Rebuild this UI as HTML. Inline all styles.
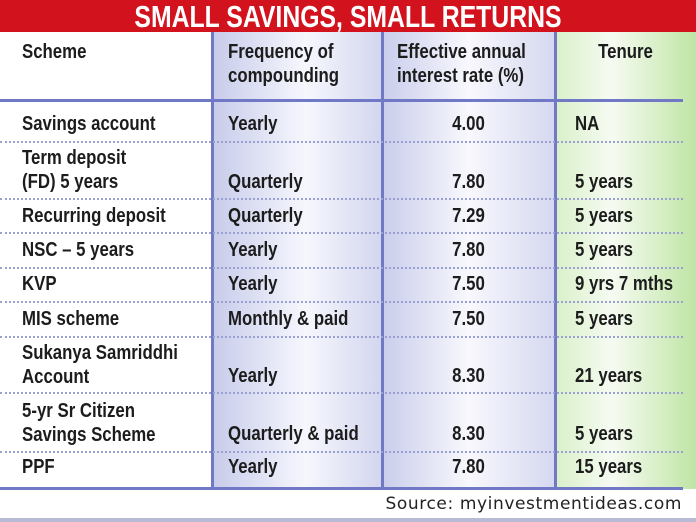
<!DOCTYPE html>
<html><head><meta charset="utf-8"><style>
body{margin:0;width:696px;height:522px;overflow:hidden;background:#fff;position:relative;font-family:"Liberation Sans",sans-serif;font-weight:bold;color:#1c1c1c}
.t{position:absolute;font-size:20px;line-height:24px;white-space:nowrap;transform:scaleX(0.84);transform-origin:0 0}
.c{transform-origin:50% 0;text-align:center}
.title{position:absolute;left:0;top:0;width:696px;height:32px;background:#d2121d}
.title span{position:absolute;left:0;width:696px;top:0;color:#fff;font-size:31px;line-height:33px;text-align:center;transform:scaleX(0.8);transform-origin:50% 0}
.col{position:absolute;top:32px;height:457px}
.v{position:absolute;top:32px;height:457px;width:3px;background:#7178c6}
.d{position:absolute;left:0;width:683px;height:0;border-top:2px dotted #9aa0cf}
</style></head><body>
<div class="title"><span>SMALL SAVINGS, SMALL RETURNS</span></div>
<div class="col" style="left:212px;width:170px;background:linear-gradient(90deg,#c7cbea,#f6f7fd 55%,#d3d6ef)"></div>
<div class="col" style="left:382px;width:173px;background:linear-gradient(90deg,#c9cdeb,#f8f8fd 50%,#d5d8f0)"></div>
<div class="col" style="left:555px;width:141px;background:linear-gradient(90deg,#d9f0c8,#f6fbf2 40%,#bfe5a5)"></div>
<div class="v" style="left:211px"></div>
<div class="v" style="left:381px"></div>
<div class="v" style="left:554px"></div>
<div style="position:absolute;left:0;top:99px;width:683px;height:3px;background:#7178c6"></div>
<div style="position:absolute;left:0;top:487px;width:683px;height:3px;background:#7178c6"></div>
<div class="d" style="top:141px"></div>
<div class="d" style="top:198px"></div>
<div class="d" style="top:232px"></div>
<div class="d" style="top:267px"></div>
<div class="d" style="top:301px"></div>
<div class="d" style="top:336px"></div>
<div class="d" style="top:392px"></div>
<div class="d" style="top:451px"></div>
<div style="position:absolute;left:0;top:518px;width:696px;height:4px;background:#b8bbd6"></div>

<div class="t" style="left:22px;top:40px">Scheme</div>
<div class="t" style="left:228px;top:40px">Frequency of<br>compounding</div>
<div class="t" style="left:397px;top:40px">Effective annual<br>interest rate (%)</div>
<div class="t c" style="left:555px;width:141px;top:40px">Tenure</div>

<div class="t" style="left:22px;top:112px">Savings account</div>
<div class="t" style="left:228px;top:112px">Yearly</div>
<div class="t c" style="left:382px;width:173px;top:112px">4.00</div>
<div class="t" style="left:575px;top:112px">NA</div>

<div class="t" style="left:22px;top:146px">Term deposit<br>(FD) 5 years</div>
<div class="t" style="left:228px;top:170px">Quarterly</div>
<div class="t c" style="left:382px;width:173px;top:170px">7.80</div>
<div class="t" style="left:575px;top:170px">5 years</div>

<div class="t" style="left:22px;top:204px">Recurring deposit</div>
<div class="t" style="left:228px;top:204px">Quarterly</div>
<div class="t c" style="left:382px;width:173px;top:204px">7.29</div>
<div class="t" style="left:575px;top:204px">5 years</div>

<div class="t" style="left:22px;top:238px">NSC – 5 years</div>
<div class="t" style="left:228px;top:238px">Yearly</div>
<div class="t c" style="left:382px;width:173px;top:238px">7.80</div>
<div class="t" style="left:575px;top:238px">5 years</div>

<div class="t" style="left:22px;top:272px">KVP</div>
<div class="t" style="left:228px;top:272px">Yearly</div>
<div class="t c" style="left:382px;width:173px;top:272px">7.50</div>
<div class="t" style="left:575px;top:272px">9 yrs 7 mths</div>

<div class="t" style="left:22px;top:307px">MIS scheme</div>
<div class="t" style="left:228px;top:307px">Monthly &amp; paid</div>
<div class="t c" style="left:382px;width:173px;top:307px">7.50</div>
<div class="t" style="left:575px;top:307px">5 years</div>

<div class="t" style="left:22px;top:341px">Sukanya Samriddhi<br>Account</div>
<div class="t" style="left:228px;top:364px">Yearly</div>
<div class="t c" style="left:382px;width:173px;top:364px">8.30</div>
<div class="t" style="left:575px;top:364px">21 years</div>

<div class="t" style="left:22px;top:399px">5-yr Sr Citizen<br>Savings Scheme</div>
<div class="t" style="left:228px;top:422px">Quarterly &amp; paid</div>
<div class="t c" style="left:382px;width:173px;top:422px">8.30</div>
<div class="t" style="left:575px;top:422px">5 years</div>

<div class="t" style="left:22px;top:455px">PPF</div>
<div class="t" style="left:228px;top:455px">Yearly</div>
<div class="t c" style="left:382px;width:173px;top:455px">7.80</div>
<div class="t" style="left:575px;top:455px">15 years</div>

<div style="position:absolute;right:14px;top:492px;font-family:'DejaVu Sans',sans-serif;font-weight:normal;font-size:17px;line-height:24px;color:#222;letter-spacing:0.6px">Source: myinvestmentideas.com</div>
</body></html>
